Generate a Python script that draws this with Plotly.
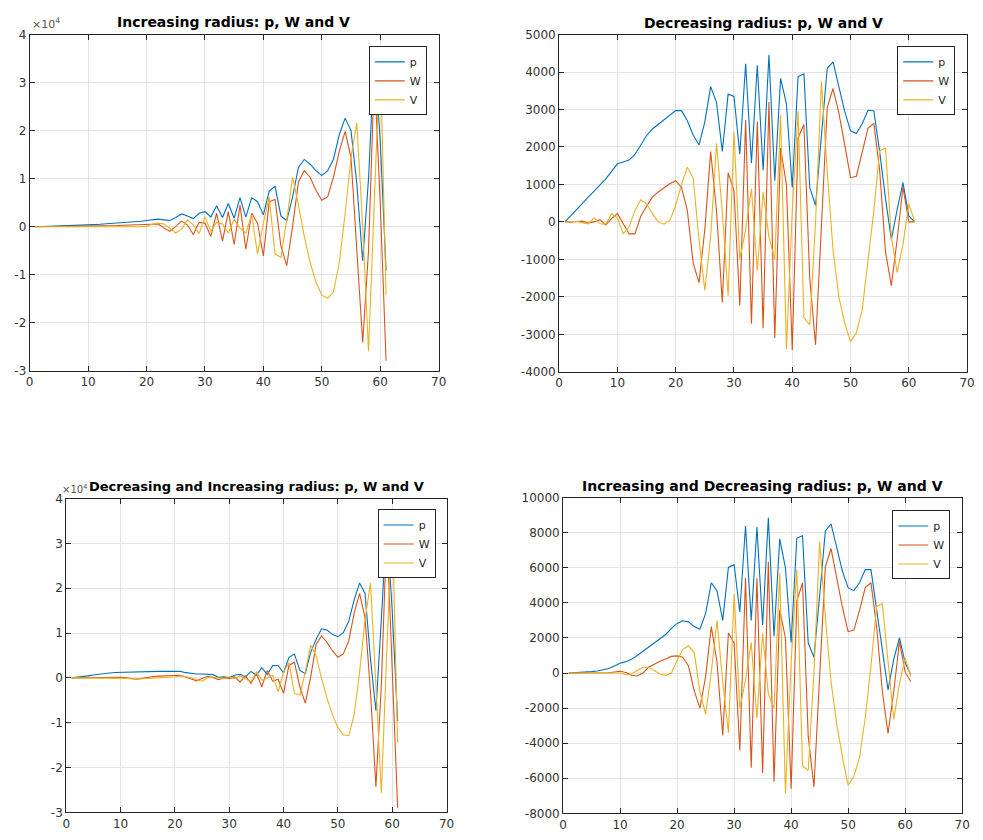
import plotly.graph_objects as go

x = list(range(1, 62))

# Subplot 1: Increasing radius
p1 = [0, 30, 60, 100, 140, 180, 220, 270, 320, 380, 440, 500, 570, 650, 740, 830, 930, 1030, 1150, 1300,
      1430, 1570, 1430, 1300, 1900, 2660, 2250, 1700, 2800, 3140, 2000, 4370, 1900, 4840, 1770, 6070, 2000, 6070, 5200, 2460,
      7430, 8400, 2250, 1230, 6200, 12350, 14000, 13000, 11660, 10640, 11660, 14050, 19200, 22600, 20000, 8900, -7100, 10000, 36000, 18000,
      -9100]
W1 = [0, 10, 20, 30, 40, 50, 60, 80, 100, 110, 120, 100, 80, 150, 250, 300, 320, 350, 380, 400,
      500, 550, -300, -950, 70, 1160, 400, -1640, 900, 750, -2000, 2800, -3000, 3140, -3700, 4500, -4700, 2800, 750, -6070,
      5200, 5660, -4000, -8100, 70, 9300, 11660, 10300, 7570, 5500, 6200, 10300, 15750, 19850, 14400, -4000, -24100, -5000, 32000, 5000,
      -27900]
V1 = [0, 0, 0, 0, 0, 0, 0, 0, 0, 0, -50, -100, -50, 0, 50, 50, 0, -50, 0, 70,
      500, 750, 550, -300, -1300, -500, 1430, 400, -1430, 2100, -950, 900, 550, -1300, 1570, -300, -1300, 2460, -5700, 750,
      6200, -5700, -6400, 1430, 10300, 4500, -2000, -7400, -11500, -14260, -14900, -13600, -7400, 2800, 14400, 21600, 0, -25900, 4000, 37000,
      -14300]

# Subplot 2: Decreasing radius
p2 = [0, 170, 340, 510, 660, 820, 980, 1150, 1350, 1550, 1600, 1650, 1800, 2050, 2300, 2480, 2600, 2730, 2860, 2970,
      2970, 2700, 2320, 2050, 2670, 3610, 3190, 1880, 3410, 3350, 1810, 4220, 1570, 4180, 1380, 4460, 1100, 3830, 3150, 920,
      3880, 3950, 920, 440, 2300, 4100, 4270, 3640, 2950, 2430, 2360, 2620, 2980, 2960, 1870, 620, -470, 330, 1050, 160,
      0]
W2 = [0, -10, 10, 20, -30, 0, 60, -80, 90, 220, -50, -320, -320, 150, 420, 660, 800, 920, 1020, 1100,
      920, 300, -1100, -1620, -200, 1880, 300, -2150, 1310, 830, -2230, 2720, -2720, 2680, -2840, 3200, -3100, 1970, 1000, -3420,
      2240, 2600, -1500, -3280, 0, 3050, 3560, 2900, 2060, 1180, 1220, 1880, 2500, 2630, 1370, -800, -1700, -470, 930, 0,
      0]
V2 = [0, 0, 10, -20, -50, 110, -50, -60, 220, 100, -320, -130, 300, 590, 480, 220, 0, -60, 40, 440,
      1000, 1460, 1170, -480, -1830, -400, 2100, 250, -1970, 2410, -1000, -200, 880, -1300, 800, -400, -1000, 2850, -3400, 300,
      2950, -2550, -2750, 0, 3730, 1350, -750, -2000, -2700, -3200, -2950, -2350, -1100, 300, 1900, 1970, -400, -1350, -600, 480,
      0]

# Subplot 3: Decreasing and Increasing radius
p3 = [0, 100, 250, 450, 650, 850, 1000, 1100, 1200, 1250, 1250, 1250, 1300, 1400, 1450, 1450, 1450, 1450, 1450, 1460,
      1460, 1170, 950, 880, 880, 880, 730, 150, 220, 70, 580, 800, 220, 1460, 580, 2270, 730, 2780, 2780, 1100,
      4600, 5340, 1680, 950, 5700, 8630, 10960, 10670, 9720, 9200, 10100, 12650, 17400, 21200, 18860, 4240, -7300, 13000, 35000, 15000,
      -9600]
W3 = [0, 20, 50, 80, 100, 150, 200, 200, 200, 150, 0, -200, -300, -100, 150, 300, 400, 450, 500, 580,
      580, 220, -300, -660, -150, 370, 70, -370, 0, -150, 220, -880, 440, -1240, 950, -1970, 1680, -730, -300, -3440,
      2780, 3500, -1970, -5630, 220, 7530, 9360, 7900, 6070, 4600, 5340, 8260, 14470, 18860, 13400, -3070, -24300, -1600, 33000, 3000,
      -29000]
V3 = [0, 0, 0, 0, 0, 20, 50, 50, 20, 0, -100, -200, -250, -200, -100, 0, 50, 100, 150, 220,
      440, 300, 0, -370, -730, 0, 200, 0, -150, 200, -150, 440, -150, -880, 1300, -500, 0, 580, -3070, 1300,
      3400, -3440, -3800, 1300, 7300, 4970, -150, -4500, -8200, -11100, -12700, -12900, -8200, 1300, 13000, 21200, -1600, -25700, 5700, 36000,
      -14400]

# Subplot 4: Increasing and Decreasing radius
p4 = [0, 10, 30, 50, 80, 120, 180, 260, 400, 560, 650, 780, 1000, 1250, 1500, 1720, 1960, 2200, 2550, 2830,
      2980, 2920, 2650, 2500, 3400, 5150, 4680, 3000, 6020, 6180, 3480, 8390, 3000, 8330, 2740, 8850, 2100, 7650, 6000, 1750,
      7700, 7830, 1700, 900, 4400, 8100, 8500, 7100, 5800, 4870, 4700, 5150, 5900, 5900, 3570, 1400, -960, 800, 2000, 600,
      -130]
W4 = [0, 0, 0, 0, 0, 0, -20, 20, 60, 100, 30, -130, -170, 0, 330, 520, 670, 800, 950, 980,
      900, 400, -1000, -2000, -200, 2650, 600, -3560, 2280, 1720, -4400, 5430, -5400, 5400, -5700, 6350, -6200, 3600, 2000, -6600,
      4100, 5150, -3600, -6500, 0, 6050, 7100, 5400, 3750, 2360, 2450, 3570, 4870, 5150, 2650, -1050, -3450, -1050, 1800, 50,
      -500]
V4 = [0, 0, 0, 0, 0, 0, 0, 0, 0, 0, -100, -50, 150, 330, 330, 150, -50, -130, 0, 700,
      1350, 1540, 1170, -1050, -2350, 50, 3000, -500, -3400, 4500, -2000, -400, 1750, -2560, 2300, -1200, -2000, 5700, -6850, 600,
      5900, -5300, -5550, 0, 7480, 3200, -500, -2900, -4800, -6400, -5900, -4800, -2550, 400, 3800, 3950, 800, -2650, -600, 850,
      -200]

titles = ["Increasing radius: p, W and V",
          "Decreasing radius: p, W and V",
          "Decreasing and Increasing radius: p, W and V",
          "Increasing and Decreasing radius: p, W and V"]
series_names = ["p", "W", "V"]
colors = ["#0072BD", "#D95319", "#EDB120"]
data = [(p1, W1, V1), (p2, W2, V2), (p3, W3, V3), (p4, W4, V4)]

xticks = [0, 10, 20, 30, 40, 50, 60, 70]
y_ranges = [(-30000, 40000), (-4000, 5000), (-30000, 40000), (-8000, 10000)]
y_ticks = [[-30000, -20000, -10000, 0, 10000, 20000, 30000, 40000],
           [-4000, -3000, -2000, -1000, 0, 1000, 2000, 3000, 4000, 5000],
           [-30000, -20000, -10000, 0, 10000, 20000, 30000, 40000],
           [-8000, -6000, -4000, -2000, 0, 2000, 4000, 6000, 8000, 10000]]
y_ticktext = [["-3", "-2", "-1", "0", "1", "2", "3", "4"],
              ["-4000", "-3000", "-2000", "-1000", "0", "1000", "2000", "3000", "4000", "5000"],
              ["-3", "-2", "-1", "0", "1", "2", "3", "4"],
              ["-8000", "-6000", "-4000", "-2000", "0", "2000", "4000", "6000", "8000", "10000"]]

W_PX, H_PX = 983, 840
# plot-area boxes in pixels: (left, right, top, bottom)
boxes = [(26, 440, 28, 370), (562, 975, 28, 371), (63, 448, 500, 819), (566, 970, 499, 820)]
title_pos = [(232, 15), (769, 16), (256, 488), (768, 487)]
title_size = [14, 14, 13, 14]
legend_pos = [(428, 40), (963, 40), (437, 511), (958, 512)]

fig = go.Figure()
for i, (series, title) in enumerate(zip(data, titles)):
    sfx = "" if i == 0 else str(i + 1)
    leg = "legend" if i == 0 else f"legend{i + 1}"
    for name, vals, col in zip(series_names, series, colors):
        fig.add_trace(go.Scatter(x=x, y=vals, mode="lines", name=name,
                                 line=dict(color=col, width=1.1),
                                 xaxis="x" + sfx, yaxis="y" + sfx, legend=leg,
                                 showlegend=True))

layout = dict(width=W_PX, height=H_PX, autosize=False,
              margin=dict(l=0, r=0, t=0, b=0),
              paper_bgcolor="white", plot_bgcolor="white",
              font=dict(family="DejaVu Sans", size=12, color="#262626"),
              annotations=[])

axis_common = dict(showline=True, linecolor="#262626", linewidth=1, mirror="ticks",
                   ticks="inside", ticklen=5, tickcolor="#262626", tickwidth=1,
                   showgrid=True, gridcolor="#e3e3e3", gridwidth=1, zeroline=False,
                   tickfont=dict(family="DejaVu Sans", size=12, color="#333333"))

for i in range(4):
    sfx = "" if i == 0 else str(i + 1)
    l, r, t, b = boxes[i]
    layout["xaxis" + sfx] = dict(domain=[l / W_PX, r / W_PX], anchor="y" + sfx,
                                 range=[0, 70], tickvals=xticks, **axis_common)
    layout["yaxis" + sfx] = dict(domain=[1 - b / H_PX, 1 - t / H_PX], anchor="x" + sfx,
                                 range=list(y_ranges[i]), tickvals=y_ticks[i],
                                 ticktext=y_ticktext[i], **axis_common)
    lx, ly = legend_pos[i]
    leg = "legend" if i == 0 else f"legend{i + 1}"
    layout[leg] = dict(x=lx / W_PX, y=1 - ly / H_PX, xanchor="right", yanchor="top",
                       bgcolor="white", bordercolor="#262626", borderwidth=1,
                       font=dict(family="DejaVu Sans", size=11, color="#262626"),
                       itemwidth=30, tracegroupgap=0)

# exponent labels
exp_pos = [(26, 26, 11), (57, 498, 10)]
for (ex, ey, es) in exp_pos:
    layout["annotations"].append(dict(text="×10<sup>4</sup>", x=ex / W_PX, y=1 - ey / H_PX,
                                      xref="paper", yref="paper", xanchor="left", yanchor="bottom",
                                      showarrow=False, font=dict(family="DejaVu Sans", size=es, color="#555555")))

for (tx, ty), title, ts in zip(title_pos, titles, title_size):
    layout["annotations"].append(dict(text=f"<b>{title}</b>", x=tx / W_PX, y=1 - ty / H_PX,
                                      xref="paper", yref="paper", xanchor="center", yanchor="middle",
                                      showarrow=False,
                                      font=dict(family="DejaVu Sans", size=ts, color="black")))

fig.update_layout(**layout)
fig.write_html("out.html")
